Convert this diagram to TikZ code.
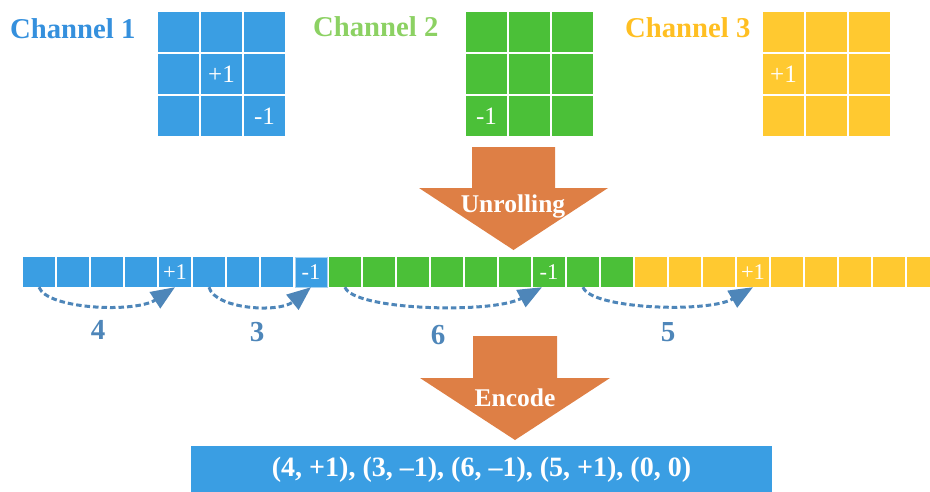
\documentclass[tikz,border=0pt]{standalone}
\usepackage{fontspec}
\setmainfont{Liberation Serif}
\usetikzlibrary{arrows.meta}

\definecolor{cellblue}{HTML}{3A9EE3}
\definecolor{chanblue}{HTML}{3590DD}
\definecolor{cellgreen}{HTML}{4BC038}
\definecolor{changreen}{HTML}{8CD163}
\definecolor{cellyellow}{HTML}{FFC930}
\definecolor{chanyellow}{HTML}{FFBF22}
\definecolor{arroworange}{HTML}{DE7F45}
\definecolor{steel}{HTML}{4E86B9}

\tikzset{
  chanlabel/.style={anchor=base west, inner sep=0pt,
    font=\fontsize{28.7}{30}\selectfont\bfseries},
  gridcell/.style={inner sep=0pt, minimum width=41pt, minimum height=39.5pt,
    text=white, font=\fontsize{25}{27}\selectfont},
  stripcell/.style={inner sep=0pt, minimum width=32pt, minimum height=30pt,
    text=white, font=\fontsize{22.5}{24}\selectfont},
  bigarrow/.style={fill=arroworange},
  arrowtext/.style={text=white, inner sep=0pt,
    font=\fontsize{25.5}{27}\selectfont\bfseries},
  runlen/.style={steel, line width=3pt, dash pattern=on 5.5pt off 3pt,
    -{Triangle[width=19pt,length=24pt]}},
  runnum/.style={text=steel, inner sep=0pt,
    font=\fontsize{29}{31}\selectfont\bfseries},
}

\begin{document}
\begin{tikzpicture}[x=1pt, y=-1pt]
\useasboundingbox (0,0) rectangle (930,491);

% channel titles
\node[chanlabel, text=chanblue]   (t1) at (10,38)  {Channel 1};
\node[chanlabel, text=changreen]  (t2) at (313,36) {Channel 2};
\node[chanlabel, text=chanyellow] (t3) at (625,37) {Channel 3};

% 3x3 kernels, one per channel
\foreach \gx/\col/\g in {158/cellblue/a, 466/cellgreen/b, 763/cellyellow/c}{
  \foreach \r in {0,1,2}{
    \foreach \c in {0,1,2}{
      \node[gridcell, fill=\col] (\g\r\c)
        at ({\gx+20.5+43*\c}, {12+19.75+42*\r}) {};
    }
  }
}
\node[gridcell, fill=cellblue]   at (a11) {+1};
\node[gridcell, fill=cellblue]   at (a22) {-1};
\node[gridcell, fill=cellgreen, text depth=-4pt] at (b20) {-1};
\node[gridcell, fill=cellyellow] at (c10) {+1};

% unrolling arrow
\fill[bigarrow] (472,147) -- (555,147) -- (555,188) -- (608,188)
  -- (513.5,250) -- (419,188) -- (472,188) -- cycle;
\node[arrowtext] (unroll) at (513,206) {Unrolling};

% unrolled strip of 27 cells
\foreach \i in {0,...,26}{
  \ifnum\i<9 \def\col{cellblue}\else
    \ifnum\i<18 \def\col{cellgreen}\else \def\col{cellyellow}\fi\fi
  \node[stripcell, fill=\col] (s\i) at ({39+34*\i}, 272) {};
}
\node[stripcell, fill=cellblue]   at (s4)  {+1};
\node[stripcell, fill=cellblue, draw=cellblue!45, line width=1pt] at (s8) {-1};
\node[stripcell, fill=cellgreen]  at (s15) {-1};
\node[stripcell, fill=cellyellow] at (s21) {+1};

% run lengths between non-zero entries
\draw[runlen] (s0.south) .. controls +(8,22) and +(-40,26) .. (s4.south);
\draw[runlen] (s5.south) .. controls +(6,22) and +(-32,26) .. (s8.south);
\draw[runlen] (s9.south) .. controls +(8,23) and +(-50,27) .. ([xshift=-7pt]s15.south);
\draw[runlen] (s16.south) .. controls +(8,22) and +(-45,26) .. (s21.south);

\node[runnum] (n1) at (98,330)  {4};
\node[runnum] (n2) at (257,332) {3};
\node[runnum] (n3) at (438,335) {6};
\node[runnum] (n4) at (668,332) {5};

% encode arrow
\fill[bigarrow] (473,336) -- (557,336) -- (557,378) -- (610,378)
  -- (515,440) -- (420,378) -- (473,378) -- cycle;
\node[arrowtext] (enc) at (515,398) {Encode};

% encoded result
\node[fill=cellblue, inner sep=0pt, minimum width=581pt, minimum height=47pt,
  text=white, font=\fontsize{28}{30}\selectfont\bfseries]
  (code) at (481.5,469.5) {(4, +1), (3, --1), (6, --1), (5, +1), (0, 0)};
\end{tikzpicture}
\end{document}
